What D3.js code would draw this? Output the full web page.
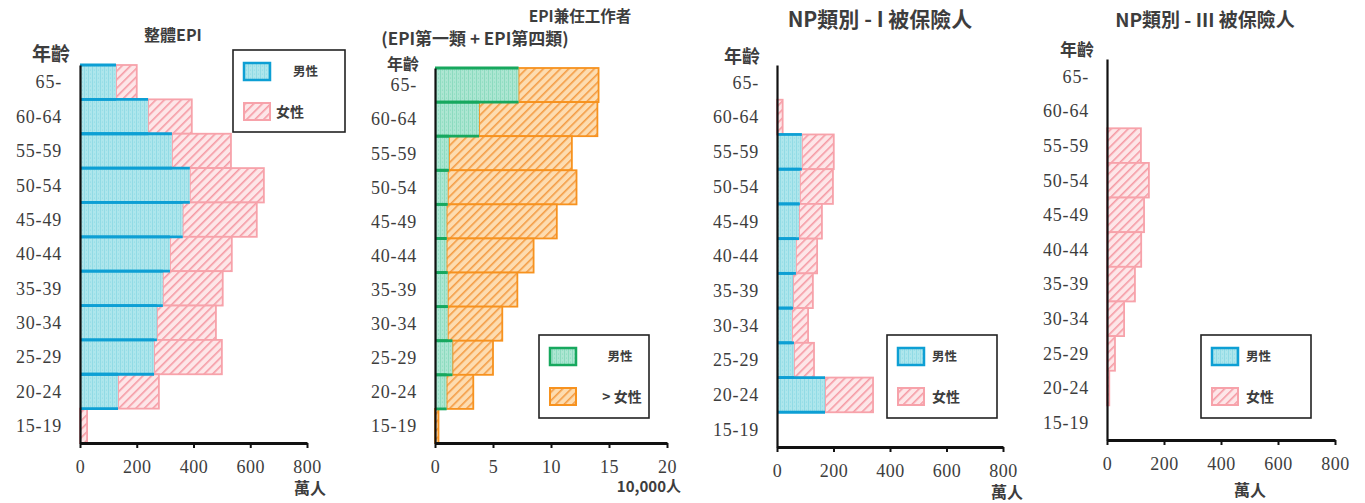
<!DOCTYPE html>
<html><head><meta charset="utf-8">
<script src="https://cdn.jsdelivr.net/npm/d3@7/dist/d3.min.js"></script>
<style>
body{margin:0;background:#fff;}
svg{display:block;}
.cjk{font-family:"Noto Sans CJK TC","Noto Sans CJK SC",sans-serif;font-weight:700;fill:#3d3d3d;}
</style></head>
<body>
<svg id="c" width="1365" height="503"></svg>
<script>
const categories = ["65-","60-64","55-59","50-54","45-49","40-44","35-39","30-34","25-29","20-24","15-19"];

// Panel 1: 整體EPI (萬人)
const epiMale   = [127,240,324,387,362,317,292,271,261,134,0];
const epiFemale = [73,154,208,261,261,218,211,208,239,144,25];
// Panel 2: EPI兼任工作者 (10,000人)
const partMale   = [7.2,3.8,1.2,1.1,1.0,1.0,1.1,1.1,1.5,1.0,0];
const partFemale = [6.9,10.2,10.6,11.1,9.5,7.5,6.0,4.7,3.5,2.3,0.3];
// Panel 3: NP類別 - I 被保險人 (萬人)
const np1Male   = [0,0,88,81,78,67,57,53,60,170,0];
const np1Female = [0,20,113,117,81,75,70,57,71,170,0];
// Panel 4: NP類別 - III 被保險人 (萬人)
const np3Male   = [0,0,0,0,0,0,0,0,0,0,0];
const np3Female = [0,0,119,147,130,120,98,60,28,8,0];

const ticks800 = [0,200,400,600,800];
const ticks20 = [0,5,10,15,20];
const maleLabel = "男性", femaleLabel = "女性", femaleLabel2 = "> 女性";
const unitMan = "萬人", unit10k = "10,000人", ageLabel = "年齡";

const serif = "'Liberation Serif', 'DejaVu Serif', serif";
const svg = d3.select("#c");
const defs = svg.append("defs");

function dotPattern(id, base, dot){
  const p = defs.append("pattern").attr("id",id).attr("patternUnits","userSpaceOnUse").attr("width",4).attr("height",4);
  p.append("rect").attr("width",4).attr("height",4).attr("fill",base);
  p.append("rect").attr("x",0).attr("y",0).attr("width",1).attr("height",4).attr("fill",dot).attr("opacity",0.35);
  p.append("circle").attr("cx",2.5).attr("cy",2).attr("r",0.6).attr("fill",dot).attr("opacity",0.5);
}
function hatchPattern(id, base, line){
  const p = defs.append("pattern").attr("id",id).attr("patternUnits","userSpaceOnUse").attr("width",6).attr("height",6).attr("patternTransform","rotate(45)");
  p.append("rect").attr("width",6).attr("height",6).attr("fill",base);
  p.append("rect").attr("x",0).attr("y",0).attr("width",1.6).attr("height",6).attr("fill",line);
}
dotPattern("pBlue","#aee6ec","#5cc4d6");
dotPattern("pGreen","#ade6d2","#4cc49a");
hatchPattern("pPink","#fde6e8","#f59aa4");
hatchPattern("pOrange","#fddcb0","#f49c44");

const blue = {fill:"url(#pBlue)", stroke:"#0d9fd4"};
const green = {fill:"url(#pGreen)", stroke:"#17a85e"};
const pink = {fill:"url(#pPink)", stroke:"#f7a2aa"};
const orange = {fill:"url(#pOrange)", stroke:"#f7921e"};

const panels = [
  {x0:80, x1:307, yTop:65, yBot:443, max:800, ticks:ticks800, male:epiMale, female:epiFemale, mc:blue, fc:pink,
   titles:[{t:"整體EPI", x:173, y:41, s:16}], age:{x:51,y:61,s:19}, unit:{t:unitMan,x:310,y:494,anchor:"middle",s:16},
   legend:{x:233,y:50,w:112,h:82, mx:293, fx:276, fl:femaleLabel}},
  {x0:435, x1:667, yTop:68, yBot:443, max:20, ticks:ticks20, male:partMale, female:partFemale, mc:green, fc:orange,
   titles:[{t:"EPI兼任工作者", x:580, y:22, s:15.5},{t:"(EPI第一類 + EPI第四類)", x:475, y:45, s:17}], age:{x:403,y:70,s:16}, unit:{t:unit10k,x:681,y:492,anchor:"end",s:15},
   legend:{x:539,y:335,w:110,h:83, mx:620, fx:622, fl:femaleLabel2, center:true}},
  {x0:777, x1:1003, yTop:65, yBot:447, max:800, ticks:ticks800, male:np1Male, female:np1Female, mc:blue, fc:pink,
   titles:[{t:"NP類別 - I 被保險人", x:880, y:27, s:21}], age:{x:742,y:63,s:18}, unit:{t:unitMan,x:1007,y:498,anchor:"middle",s:16},
   legend:{x:887,y:335,w:110,h:83, mx:932, fx:932, fl:femaleLabel}},
  {x0:1107, x1:1335, yTop:59, yBot:440, max:800, ticks:ticks800, male:np3Male, female:np3Female, mc:blue, fc:pink,
   titles:[{t:"NP類別 - III 被保險人", x:1205, y:27, s:19}], age:{x:1077,y:56,s:17}, unit:{t:unitMan,x:1250,y:496,anchor:"middle",s:16},
   legend:{x:1201,y:335,w:110,h:83, mx:1246, fx:1246, fl:femaleLabel}}
];

panels.forEach(p=>{
  const g = svg.append("g");
  const x = d3.scaleLinear().domain([0,p.max]).range([p.x0,p.x1]);
  const y = d3.scaleBand().domain(categories).range([p.yTop,p.yBot]).padding(0);
  const bw = y.bandwidth();

  g.selectAll(".f").data(categories).join("rect")
    .attr("x",(d,i)=>x(p.male[i]))
    .attr("y",d=>y(d))
    .attr("width",(d,i)=>Math.max(0,x(p.male[i]+p.female[i])-x(p.male[i])))
    .attr("height",bw)
    .attr("fill",p.fc.fill).attr("stroke",p.fc.stroke).attr("stroke-width",(d,i)=>p.female[i]>0?1.8:0);

  g.selectAll(".m").data(categories).join("rect")
    .attr("x",x(0))
    .attr("y",d=>y(d))
    .attr("width",(d,i)=>x(p.male[i])-x(0))
    .attr("height",bw)
    .attr("fill",p.mc.fill);
  const withMale = categories.filter((d,i)=>p.male[i]>0);
  g.selectAll(".mt").data(withMale).join("line")
    .attr("x1",x(0)).attr("x2",d=>x(p.male[categories.indexOf(d)]))
    .attr("y1",d=>y(d)).attr("y2",d=>y(d))
    .attr("stroke",p.mc.stroke).attr("stroke-width",2.8);
  g.selectAll(".mb").data(withMale).join("line")
    .attr("x1",x(0)).attr("x2",d=>x(p.male[categories.indexOf(d)]))
    .attr("y1",d=>y(d)+bw).attr("y2",d=>y(d)+bw)
    .attr("stroke",p.mc.stroke).attr("stroke-width",2.8);

  const ya = d3.axisLeft(y).tickSize(0).tickPadding(18);
  const yg = g.append("g").attr("transform",`translate(${p.x0},0)`).call(ya)
    .attr("font-family",serif).attr("font-size",18);
  yg.select(".domain").attr("stroke","#111").attr("stroke-width",2.2);
  yg.selectAll("text").attr("dy","0.35em").attr("fill","#3d3d3d").attr("letter-spacing","0.8");

  const xa = d3.axisBottom(x).tickValues(p.ticks).tickSize(5).tickSizeOuter(0).tickPadding(12);
  const xg = g.append("g").attr("transform",`translate(0,${p.yBot})`).call(xa)
    .attr("font-family",serif).attr("font-size",18);
  xg.select(".domain").attr("stroke","#111").attr("stroke-width",3);
  xg.selectAll(".tick line").attr("stroke","#111").attr("stroke-width",2);
  xg.selectAll("text").attr("fill","#3d3d3d").attr("letter-spacing","0.5");

  p.titles.forEach(t=>{
    g.append("text").attr("class","cjk").attr("x",t.x).attr("y",t.y).attr("text-anchor","middle")
      .attr("font-size",t.s).text(t.t);
  });
  g.append("text").attr("class","cjk").attr("x",p.age.x).attr("y",p.age.y).attr("text-anchor","middle")
    .attr("font-size",p.age.s).text(ageLabel);
  g.append("text").attr("class","cjk").attr("x",p.unit.x).attr("y",p.unit.y).attr("text-anchor",p.unit.anchor)
    .attr("font-size",p.unit.s).text(p.unit.t);

  const L = p.legend;
  const lg = g.append("g");
  lg.append("rect").attr("x",L.x).attr("y",L.y).attr("width",L.w).attr("height",L.h)
    .attr("fill","#fff").attr("stroke","#222").attr("stroke-width",1.6);
  lg.append("rect").attr("x",L.x+11).attr("y",L.y+13).attr("width",26).attr("height",17)
    .attr("fill",p.mc.fill).attr("stroke",p.mc.stroke).attr("stroke-width",2.5);
  lg.append("rect").attr("x",L.x+11).attr("y",L.y+53).attr("width",26).attr("height",17)
    .attr("fill",p.fc.fill).attr("stroke",p.fc.stroke).attr("stroke-width",2);
  lg.append("text").attr("class","cjk").attr("x",L.mx).attr("y",L.y+22).attr("dy","0.35em")
    .attr("text-anchor",L.center?"middle":"start").attr("font-size",12.5).text(maleLabel);
  lg.append("text").attr("class","cjk").attr("x",L.fx).attr("y",L.y+62).attr("dy","0.35em")
    .attr("text-anchor",L.center?"middle":"start").attr("font-size",14).text(L.fl);
});
</script>
</body></html>
